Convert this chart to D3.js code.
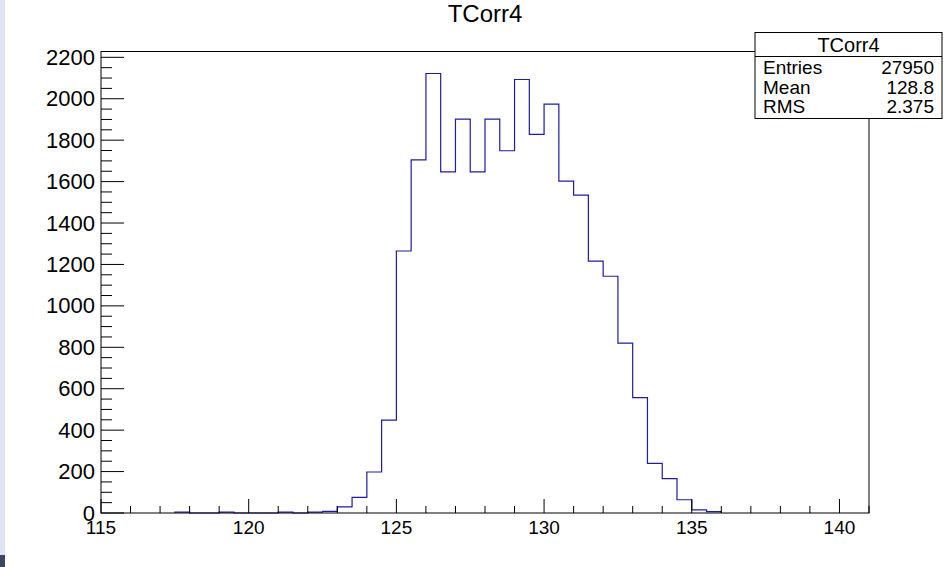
<!DOCTYPE html>
<html>
<head>
<meta charset="utf-8">
<script src="https://cdn.jsdelivr.net/npm/d3@7"></script>
<style>
  body { margin: 0; background: #fff; }
  svg { display: block; font-family: "Liberation Sans", Arial, sans-serif; }
</style>
</head>
<body>
<script>
// histogram TCorr4, bin width 0.5, low edges + contents
var binWidth = 0.5;
var binLow = [117.5, 119, 121, 122, 122.5, 123, 123.5, 124, 124.5, 125, 125.5, 126, 126.5, 127,
              127.5, 128, 128.5, 129, 129.5, 130, 130.5, 131, 131.5, 132, 132.5, 133, 133.5,
              134, 134.5, 135, 135.5];
var binCounts = [4, 4, 4, 4, 8, 30, 75, 198, 448, 1265, 1705, 2122, 1647, 1902,
                 1647, 1902, 1749, 2093, 1828, 1974, 1602, 1535, 1216, 1143, 820, 557, 240,
                 166, 64, 15, 7];
var xTickLabels = [115, 120, 125, 130, 135, 140];
var yTickLabels = [0, 200, 400, 600, 800, 1000, 1200, 1400, 1600, 1800, 2000, 2200];
var statNames = ["Entries", "Mean", "RMS"];
var statValues = ["27950", "128.8", "2.375"];
var histTitle = "TCorr4";

var W = 952, H = 567;
var svg = d3.select("body").append("svg").attr("width", W).attr("height", H);

// window edge on the left
svg.append("rect").attr("x", 0).attr("y", 0).attr("width", 5).attr("height", 555).attr("fill", "#dfe4f4");
svg.append("rect").attr("x", 0).attr("y", 555).attr("width", 5).attr("height", 12).attr("fill", "#3a4662");

var yMax = d3.max(binCounts) * 1.05;
var x = d3.scaleLinear().domain([115, 141]).range([101, 869]);
var y = d3.scaleLinear().domain([0, yMax]).range([513, 51.5]);

// histogram outline
var pts = [];
binLow.forEach(function(lo, i) {
  // back down to zero between bins that are not adjacent
  if (i > 0 && Math.abs(binLow[i - 1] + binWidth - lo) > 1e-6) {
    pts.push([binLow[i - 1] + binWidth, 0]);
    pts.push([lo, 0]);
  }
  if (i == 0) pts.push([lo, 0]);
  pts.push([lo, binCounts[i]]);
  pts.push([lo + binWidth, binCounts[i]]);
});
pts.push([binLow[binLow.length - 1] + binWidth, 0]);

var line = d3.line()
  .x(function(d) { return x(d[0]) })
  .y(function(d) { return y(d[1]) });

svg.append("path").datum(pts)
  .attr("d", line)
  .attr("fill", "none")
  .attr("stroke", "#1c1ca6")
  .attr("stroke-width", 1.2);

// frame
svg.append("rect")
  .attr("x", x(115)).attr("y", y(yMax))
  .attr("width", x(141) - x(115)).attr("height", y(0) - y(yMax))
  .attr("fill", "none").attr("stroke", "#000").attr("stroke-width", 1);

// x ticks (inside, pointing up)
var xt = d3.range(115, 141.01, 1);
svg.selectAll("line.xt").data(xt).enter().append("line")
  .attr("class", "xt")
  .attr("x1", function(d) { return x(d) }).attr("x2", function(d) { return x(d) })
  .attr("y1", y(0))
  .attr("y2", function(d) { return y(0) - (d % 5 == 0 ? 14 : 7) })
  .attr("stroke", "#000");

svg.selectAll("text.xl").data(xTickLabels).enter().append("text")
  .attr("class", "xl")
  .attr("x", function(d) { return x(d) })
  .attr("y", 534)
  .attr("text-anchor", "middle")
  .attr("font-size", 19)
  .text(function(d) { return d });

// y ticks (inside, pointing right)
var yt = d3.range(0, 2201, 50);
svg.selectAll("line.yt").data(yt).enter().append("line")
  .attr("class", "yt")
  .attr("x1", x(115))
  .attr("x2", function(d) { return x(115) + (d % 200 == 0 ? 23 : 11) })
  .attr("y1", function(d) { return y(d) }).attr("y2", function(d) { return y(d) })
  .attr("stroke", "#000");

svg.selectAll("text.yl").data(yTickLabels).enter().append("text")
  .attr("class", "yl")
  .attr("x", 95)
  .attr("y", function(d) { return y(d) + 7.5 })
  .attr("text-anchor", "end")
  .attr("font-size", 22)
  .text(function(d) { return d });

// title
svg.append("text")
  .attr("x", 485).attr("y", 22)
  .attr("text-anchor", "middle")
  .attr("font-size", 24)
  .text(histTitle);

// stats box
var box = svg.append("g");
box.append("rect")
  .attr("x", 755).attr("y", 32.5).attr("width", 187).attr("height", 86)
  .attr("fill", "#fff").attr("stroke", "#000").attr("stroke-width", 1);
box.append("line")
  .attr("x1", 755).attr("x2", 942).attr("y1", 56.5).attr("y2", 56.5)
  .attr("stroke", "#000");
box.append("text")
  .attr("x", 848.5).attr("y", 51.5)
  .attr("text-anchor", "middle").attr("font-size", 20)
  .text(histTitle);
statNames.forEach(function(n, i) {
  box.append("text")
    .attr("x", 763).attr("y", 74 + i * 19.7)
    .attr("font-size", 19)
    .text(n);
  box.append("text")
    .attr("x", 934).attr("y", 74 + i * 19.7)
    .attr("text-anchor", "end").attr("font-size", 19)
    .text(statValues[i]);
});
</script>
</body>
</html>
